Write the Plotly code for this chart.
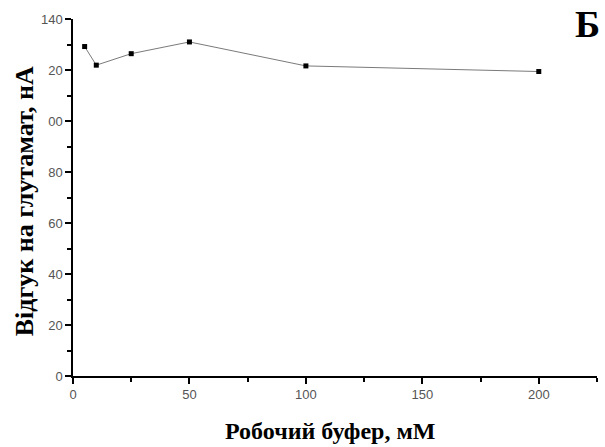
import plotly.graph_objects as go

buffer_mM = [5, 10, 25, 50, 100, 200]
response_nA = [129.2, 121.9, 126.4, 131.0, 121.6, 119.4]

y_tickvals = [0, 20, 40, 60, 80, 100, 120, 140]
y_ticktext = ["0", "20", "40", "60", "80", "00", "20", "140"]
x_tickvals = [0, 50, 100, 150, 200]
x_ticktext = ["0", "50", "100", "150", "200"]

fig = go.Figure()
fig.add_trace(go.Scatter(
    x=buffer_mM, y=response_nA, mode="lines+markers",
    line=dict(color="#7a7a7a", width=1),
    marker=dict(symbol="square", size=5, color="black"),
    showlegend=False,
))

tickfont = dict(family="Liberation Sans, Arial", size=13, color="#555555")

fig.update_xaxes(
    range=[0, 225], showgrid=False, zeroline=False,
    showline=True, linecolor="black", linewidth=1.5,
    ticks="outside", ticklen=6, tickwidth=1.5, tickcolor="black",
    tickvals=x_tickvals, ticktext=x_ticktext, tickfont=tickfont,
    minor=dict(ticks="outside", ticklen=4, tickwidth=1.5, tickcolor="black", dtick=25, tick0=0, showgrid=False),
)
fig.update_yaxes(
    range=[0, 140], showgrid=False, zeroline=False,
    showline=True, linecolor="black", linewidth=1.5,
    ticks="outside", ticklen=6, tickwidth=1.5, tickcolor="black",
    tickvals=y_tickvals, ticktext=y_ticktext, tickfont=tickfont,
    minor=dict(ticks="outside", ticklen=4, tickwidth=1.5, tickcolor="black", dtick=10, tick0=0, showgrid=False),
)

serif = "Liberation Serif, Times New Roman, serif"
fig.add_annotation(
    text="<b>Відгук на глутамат, нА</b>", xref="paper", yref="paper",
    x=-0.093, y=0.49, xanchor="center", yanchor="middle",
    textangle=-90, showarrow=False, font=dict(family=serif, size=26, color="black"),
)
fig.add_annotation(
    text="<b>Робочий буфер, мМ</b>", xref="paper", yref="paper",
    x=0.49, y=-0.154, xanchor="center", yanchor="middle",
    showarrow=False, font=dict(family=serif, size=24, color="black"),
)
fig.add_annotation(
    text="<b>Б</b>", xref="paper", yref="paper",
    x=0.982, y=0.985, xanchor="center", yanchor="middle",
    showarrow=False, font=dict(family=serif, size=38, color="black"),
)

fig.update_layout(
    width=605, height=447,
    margin=dict(l=73, r=8, t=19, b=71),
    plot_bgcolor="white", paper_bgcolor="white",
)
fig.write_html("out.html")
